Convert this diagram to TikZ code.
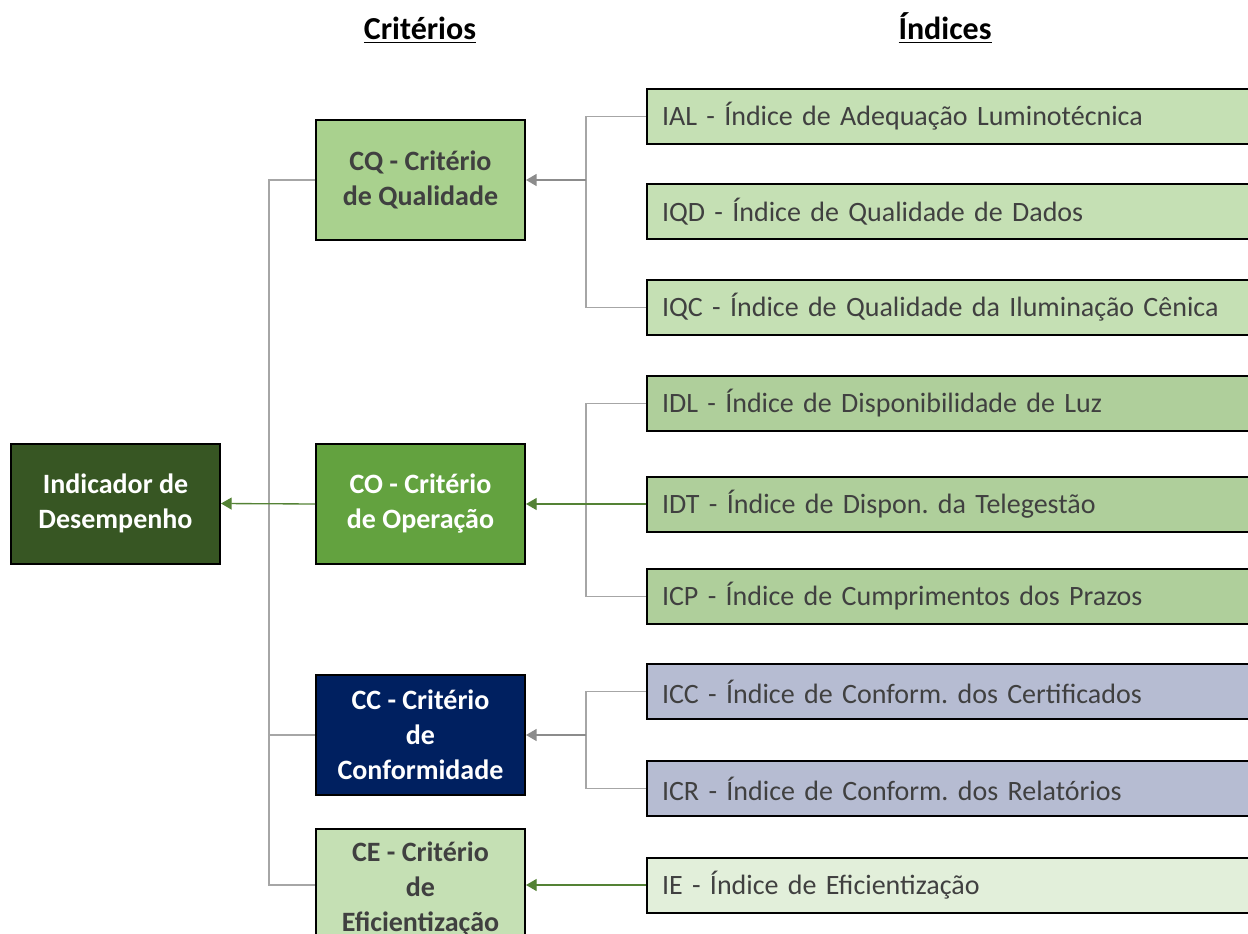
\documentclass[tikz,border=0pt]{standalone}
\usepackage{fontspec}
\setmainfont{Carlito}
\usetikzlibrary{arrows.meta}
\frenchspacing

\definecolor{inddark}{HTML}{375623}
\definecolor{cqfill}{HTML}{A9D18E}
\definecolor{cofill}{HTML}{63A23F}
\definecolor{ccfill}{HTML}{002060}
\definecolor{cefill}{HTML}{C5E0B4}
\definecolor{qfill}{HTML}{C5E0B4}
\definecolor{ofill}{HTML}{AFCF9B}
\definecolor{cfill}{HTML}{B6BCD2}
\definecolor{efill}{HTML}{E2EFDA}
\definecolor{txtgray}{HTML}{404040}
\definecolor{linkgray}{HTML}{A6A6A6}
\definecolor{arrowgray}{HTML}{8C8C8C}
\definecolor{arrowgreen}{HTML}{548235}

\tikzset{every picture/.style={line width=0.75pt}}
\tikzset{
  headtext/.style={anchor=base, font=\bfseries\fontsize{24}{28}\selectfont},
  critbox/.style={draw=black, line width=1.5pt, minimum width=156.75pt, minimum height=90pt, inner sep=0pt, align=center, font=\bfseries\fontsize{21}{26.25}\selectfont},
  idxbox/.style={draw=black, line width=1.5pt, anchor=west, text width=440pt, inner xsep=11.25pt, inner ysep=0pt, minimum height=41.25pt, align=left, text=txtgray, font=\fontsize{21}{26}\selectfont},
  link/.style={draw=linkgray, line width=0.9pt},
  grayarrow/.style={draw=arrowgray, line width=1.2pt, -{Triangle[length=8pt,width=9pt]}},
  greenarrow/.style={draw=arrowgreen, line width=1pt, -{Triangle[length=8pt,width=9pt]}}
}

\begin{document}
\begin{tikzpicture}[x=0.75pt,y=0.75pt,yscale=-1,xscale=1]
%set diagram left start at 0, and has height of 934
\clip (0,0) rectangle (1248,934);

% Text Node
\node (hcrit) [headtext] at (420,40) {\underline{Critérios}};
% Text Node
\node (hidx) [headtext] at (945,40) {\underline{Índices}};

%Shape: Rectangle [Indicador]
\node (ind) [critbox, fill=inddark, text=white] at (115.5,503.5) {Indicador de\\Desempenho};

%Shape: Rectangle [criterios]
\node (cq) [critbox, fill=cqfill, text=txtgray] at (420.5,180) {CQ - Critério\\de Qualidade};
\node (co) [critbox, fill=cofill, text=white] at (420.5,504) {CO - Critério\\de Operação};
\node (cc) [critbox, fill=ccfill, text=white] at (420.5,735) {CC - Critério\\de\\Conformidade};
\node (ce) [critbox, fill=cefill, text=txtgray] at (420.5,889) {CE - Critério\\de\\Eficientização};

%Shape: Rectangle [indices]
\node (ial) [idxbox, fill=qfill] at (646,116.5) {IAL - Índice de Adequação Luminotécnica};
\node (iqd) [idxbox, fill=qfill] at (646,212) {IQD - Índice de Qualidade de Dados};
\node (iqc) [idxbox, fill=qfill] at (646,307.5) {IQC - Índice de Qualidade da Iluminação Cênica};
\node (idl) [idxbox, fill=ofill] at (646,403.5) {IDL - Índice de Disponibilidade de Luz};
\node (idt) [idxbox, fill=ofill] at (646,504) {IDT - Índice de Dispon. da Telegestão};
\node (icp) [idxbox, fill=ofill] at (646,596.5) {ICP - Índice de Cumprimentos dos Prazos};
\node (icc) [idxbox, fill=cfill] at (646,691.5) {ICC - Índice de Conform. dos Certificados};
\node (icr) [idxbox, fill=cfill] at (646,788.5) {ICR - Índice de Conform. dos Relatórios};
\node (ie) [idxbox, fill=efill] at (646,885) {IE - Índice de Eficientização};

% junctions
\coordinate (trunk) at (269,180);
\coordinate (jq) at (586,180);
\coordinate (jo) at (586,504);
\coordinate (jc) at (586,735);

%Connectors [criterios to indicador]
\draw [link] (cq.west) -- (trunk) |- (ie.west -| ce.west);
\draw [link] (cc.west) -- (trunk |- cc.west);
\draw [greenarrow] (co.west) -- (ind.east);

%Connectors [indices to criterios]
\draw [link] (ial.west) -| (jq) |- (iqc.west);
\draw [grayarrow] (jq) -- (cq.east);
\draw [link] (idl.west) -| (jo) |- (icp.west);
\draw [greenarrow] (idt.west) -- (co.east);
\draw [link] (icc.west) -| (jc) |- (icr.west);
\draw [grayarrow] (jc) -- (cc.east);
\draw [greenarrow] (ie.west) -- (ie.west -| ce.east);

\end{tikzpicture}
\end{document}
